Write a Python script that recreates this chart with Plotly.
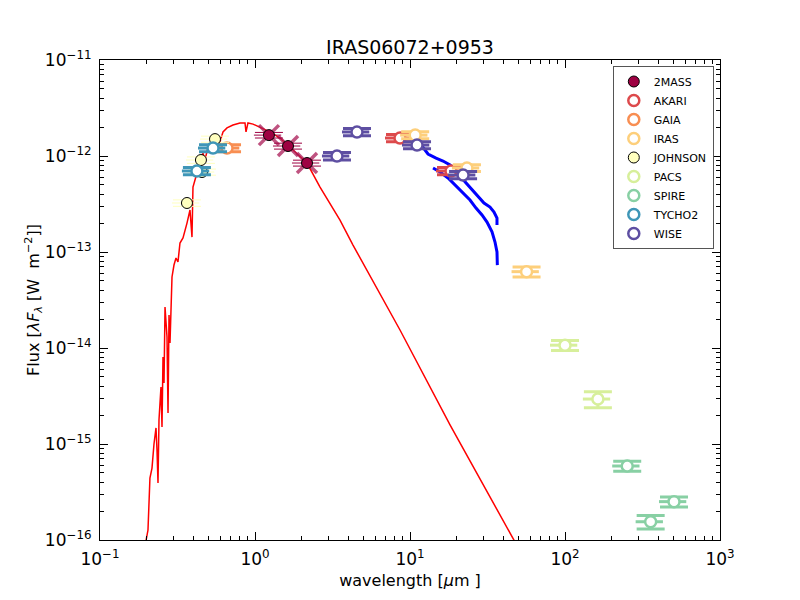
import plotly.graph_objects as go

# model spectrum (wavelength in micron, lambda*F_lambda in W m^-2)
model_wl = [0.198, 0.204, 0.210, 0.2165, 0.223, 0.2298, 0.2332, 0.2367, 0.2402, 0.2474,
            0.2512, 0.2550, 0.2588, 0.2627, 0.2706, 0.2747, 0.2788, 0.2829, 0.2914, 0.3001,
            0.3092, 0.3185, 0.3281, 0.3431, 0.3641, 0.3807, 0.3922, 0.398, 0.4224, 0.4417,
            0.4617, 0.4757, 0.4975, 0.528, 0.5688, 0.5858, 0.6216, 0.6597, 0.721, 0.800,
            0.862, 0.875, 0.901, 0.971, 1.077, 1.25, 1.45, 1.759, 2.165, 2.627,
            3.535, 4.288, 8.62, 18.12, 47.6, 100.0]
model_flux = [9.8e-17, 1.27e-16, 4.42e-16, 5.62e-16, 1.0e-15, 1.47e-15, 8.66e-16, 3.92e-16, 1.78e-15, 3.92e-15,
              1.50e-15, 8.06e-15, 4.32e-15, 2.67e-14, 1.30e-14, 2.10e-15, 2.21e-14, 1.13e-14, 5.49e-14, 7.32e-14,
              8.66e-14, 7.87e-14, 1.24e-13, 1.40e-13, 2.0e-13, 2.74e-13, 1.43e-13, 4.75e-13, 6.65e-13, 9.08e-13,
              1.07e-12, 9.08e-13, 1.24e-12, 1.37e-12, 1.58e-12, 1.30e-12, 1.78e-12, 1.96e-12, 2.10e-12, 2.21e-12,
              2.21e-12, 1.78e-12, 2.21e-12, 2.15e-12, 2.0e-12, 1.78e-12, 1.54e-12, 1.15e-12, 8.45e-13, 4.75e-13,
              2.15e-13, 1.18e-13, 1.54e-14, 1.58e-15, 1.0e-16, 1.1e-17]

# IRS spectrum, two pieces
irs1_wl = [11.95, 13.07, 14.72, 16.33, 18.12, 20.40, 22.63, 25.12, 27.46, 30.02, 32.82, 34.83, 36.41, 36.41]
irs1_flux = [1.27e-12, 1.05e-12, 9.5e-13, 8.87e-13, 8.06e-13, 6.49e-13, 5.36e-13, 4.42e-13, 3.83e-13, 3.24e-13,
             2.94e-13, 2.61e-13, 2.26e-13, 1.91e-13]
irs2_wl = [14.08, 15.62, 17.59, 19.51, 21.65, 24.38, 26.66, 29.14, 31.39, 33.81, 35.35, 36.41, 36.6]
irs2_flux = [7.50e-13, 6.81e-13, 5.90e-13, 4.99e-13, 4.22e-13, 3.48e-13, 2.87e-13, 2.43e-13, 2.05e-13, 1.62e-13,
             1.27e-13, 1.0e-13, 7.3e-14]

# photometry per survey: wavelength, flux, flux error
phot = {
    "2MASS":   ([1.23, 1.633, 2.165], [1.65e-12, 1.27e-12, 8.45e-13], [1.1e-13, 0.9e-13, 0.6e-13]),
    "AKARI":   ([8.62, 18.39], [1.54e-12, 6.98e-13], [1.3e-13, 0.6e-13]),
    "GAIA":    ([0.660], [1.21e-12], [1.0e-13]),
    "IRAS":    ([10.8, 23.3, 56.5], [1.65e-12, 7.5e-13, 6.24e-14], [1.4e-13, 0.6e-13, 0.75e-14]),
    "JOHNSON": ([0.364, 0.448, 0.455, 0.552], [3.24e-13, 9.08e-13, 6.81e-13, 1.50e-12],
                [2.5e-14, 7e-14, 5e-14, 1.1e-13]),
    "PACS":    ([100.0, 163.0], [1.07e-14, 2.94e-15], [1.3e-15, 5.6e-16]),
    "SPIRE":   ([252.0, 357.0, 505.0], [5.9e-16, 1.55e-16, 2.51e-16], [7e-17, 2.5e-17, 3e-17]),
    "TYCHO2":  ([0.422, 0.536], [6.98e-13, 1.21e-12], [6e-14, 1.0e-13]),
    "WISE":    ([3.38, 4.55, 11.1, 22.0], [1.0e-12, 1.78e-12, 1.30e-12, 6.34e-13],
                [0.9e-13, 1.5e-13, 1.1e-13, 0.55e-13]),
}
colors = {
    "2MASS": "#9e0142", "AKARI": "#dd4a4c", "GAIA": "#f88e52", "IRAS": "#fdcf7b",
    "JOHNSON": "#ffffbf", "PACS": "#d7ef9b", "SPIRE": "#88d0a4", "TYCHO2": "#3f96b7",
    "WISE": "#5e4fa2",
}

fig = go.Figure()

fig.add_trace(go.Scatter(x=model_wl, y=model_flux, mode="lines",
                         line=dict(color="red", width=1.5), showlegend=False))
for w, f in [(irs1_wl, irs1_flux), (irs2_wl, irs2_flux)]:
    fig.add_trace(go.Scatter(x=w, y=f, mode="lines",
                             line=dict(color="blue", width=3), showlegend=False))

# crosses on 2MASS
fig.add_trace(go.Scatter(x=phot["2MASS"][0], y=phot["2MASS"][1], mode="markers",
                         marker=dict(symbol="x-thin", size=20,
                                     line=dict(color="rgba(170,25,85,0.75)", width=3.5)),
                         showlegend=False))

for name, (w, f, e) in phot.items():
    c = colors[name]
    if name in ("2MASS", "JOHNSON"):
        marker = dict(symbol="circle", size=11, color=c, line=dict(color="black", width=1))
        thick = 1
    else:
        marker = dict(symbol="circle", size=11, color="white", line=dict(color=c, width=2.5))
        thick = 3
    fig.add_trace(go.Scatter(
        x=w, y=f, mode="markers", name=name, marker=marker,
        error_x=dict(type="percent", value=20, color=c, thickness=thick, width=0),
        error_y=dict(type="data", array=e, color=c, thickness=thick, width=14),
    ))

font = "DejaVu Sans, Liberation Sans, sans-serif"
xticks = [0.1, 1, 10, 100, 1000]
xlabels = ["10<sup>−1</sup>", "10<sup>0</sup>", "10<sup>1</sup>", "10<sup>2</sup>", "10<sup>3</sup>"]
yticks = [1e-16, 1e-15, 1e-14, 1e-13, 1e-12, 1e-11]
ylabels = ["10<sup>−16</sup>", "10<sup>−15</sup>", "10<sup>−14</sup>", "10<sup>−13</sup>",
           "10<sup>−12</sup>", "10<sup>−11</sup>"]
xminor = [m * d for d in xticks[:-1] for m in range(2, 10)]
yminor = [m * d for d in yticks[:-1] for m in range(2, 10)]

axis_style = dict(type="log", showgrid=False, zeroline=False, showline=True, linecolor="black",
                  linewidth=1, mirror="allticks", ticks="inside", ticklen=8, tickcolor="black",
                  tickfont=dict(size=17, color="black"), automargin=False, ticklabelstandoff=4)

# page body has an 8px margin, so the figure sits 8px right/down in the window
fig.update_layout(
    width=800, height=600,
    paper_bgcolor="white", plot_bgcolor="white",
    font=dict(family=font, color="black"),
    margin=dict(l=92, r=88, t=52, b=68),
    title=dict(text="IRAS06072+0953", x=(410 - 8) / 800, xanchor="center", y=1 - 39 / 600,
               yanchor="middle", font=dict(size=19)),
    xaxis=dict(axis_style, range=[-1, 3], tickvals=xticks, ticktext=xlabels,
               minor=dict(tickvals=xminor, ticks="inside", ticklen=4, tickcolor="black", showgrid=False),
               title=dict(text="wavelength [<i>μ</i>m ]", font=dict(size=16), standoff=6)),
    yaxis=dict(axis_style, range=[-16, -11], tickvals=yticks, ticktext=ylabels,
               minor=dict(tickvals=yminor, ticks="inside", ticklen=4, tickcolor="black", showgrid=False),
               title=dict(text="Flux [<i>λF</i><sub><i>λ</i></sub> [W  m<sup>−2</sup>]]",
                          font=dict(size=16), standoff=0)),
    legend=dict(x=0.99, y=0.9875, xanchor="right", yanchor="top", bgcolor="white",
                bordercolor="#555", borderwidth=1, font=dict(size=11), tracegroupgap=0),
)

fig.write_html("out.html")
